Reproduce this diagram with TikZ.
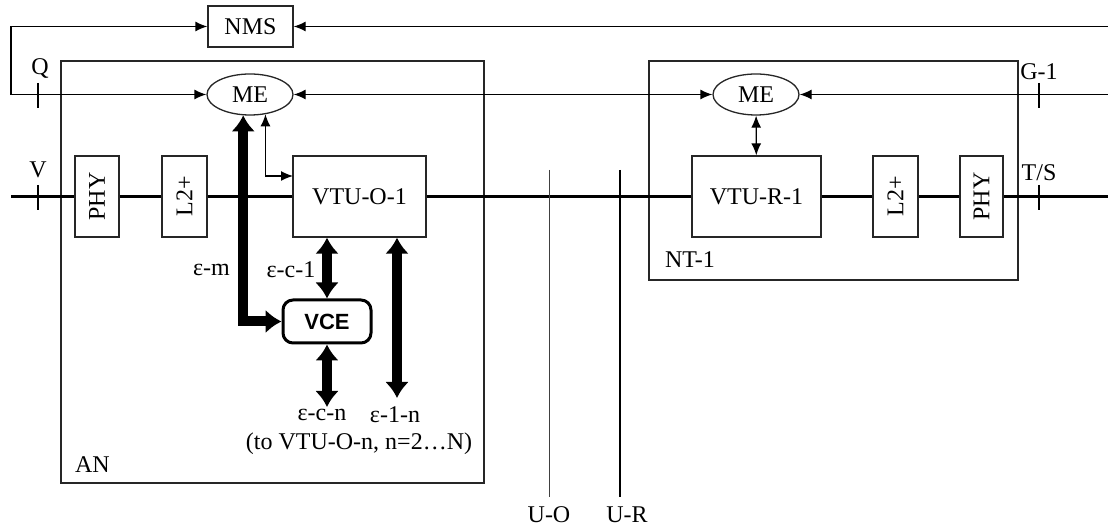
\documentclass[tikz,border=0pt]{standalone}
\usepackage{fontspec}
\setmainfont{Liberation Serif}
\newfontfamily\vcefont{Liberation Sans}
\usetikzlibrary{arrows.meta,shapes.geometric}

\tikzset{every picture/.style={line width=0.65pt}}
\tikzset{
  blk/.style={draw=black!85, fill=white, inner sep=0pt, font=\fontsize{12}{14}\selectfont},
  lbl/.style={inner sep=0.75pt, font=\fontsize{12}{14}\selectfont},
  sm/.style={-{Latex[length=6pt,width=5pt]}},
  smboth/.style={{Latex[length=6pt,width=5pt]}-{Latex[length=6pt,width=5pt]}},
  fatboth/.style={line width=5pt, {Latex[length=8pt,width=12pt]}-{Latex[length=8pt,width=12pt]}},
  bus/.style={line width=1.8pt},
}

\begin{document}
\begin{tikzpicture}[x=0.5pt,y=0.5pt,yscale=-1,xscale=1]
\useasboundingbox (0,0) rectangle (1108,528);

%Shape: Rectangle AN
\draw [black!85] (61,61) rectangle (484,483);
%Shape: Rectangle NT-1
\draw [black!85] (649,61) rectangle (1018,280);

%Boxes
\node [blk, minimum width=42.5pt, minimum height=20.5pt] (NMS) at (250.5,26.5) {NMS};
\node [blk, ellipse, minimum width=43pt, minimum height=20.5pt] (MEo) at (250,94.5) {ME};
\node [blk, ellipse, minimum width=43pt, minimum height=20.5pt] (MEr) at (756,94.5) {ME};
\node [blk, rotate=90, minimum width=40.5pt, minimum height=22pt] (PHYo) at (97,196.5) {PHY};
\node [blk, rotate=90, minimum width=40.5pt, minimum height=22.5pt] (L2o) at (184.5,196.5) {L2+};
\node [blk, minimum width=66.5pt, minimum height=40.5pt] (VTUO) at (359.5,196.5) {VTU-O-1};
\node [blk, minimum width=64.5pt, minimum height=40.5pt] (VTUR) at (756.5,196.5) {VTU-R-1};
\node [blk, rotate=90, minimum width=40.5pt, minimum height=22.5pt] (L2r) at (895.5,196.5) {L2+};
\node [blk, rotate=90, minimum width=40.5pt, minimum height=21.5pt] (PHYr) at (981.5,196.5) {PHY};
\node [draw, fill=white, line width=1.5pt, rounded corners=5pt, inner sep=0pt, minimum width=44pt, minimum height=21.5pt, font=\vcefont\bfseries\fontsize{11}{13}\selectfont] (VCE) at (327,321.5) {VCE};

%Free ends
\coordinate (busL) at (11,196.5);
\coordinate (busR) at (1108,196.5);
\coordinate (qtop) at (11,26.5);
\coordinate (qbot) at (11,94.5);
\coordinate (nmsR) at (1108,26.5);
\coordinate (meR) at (1108,94.5);
\coordinate (vtuoin) at (293,176);
\coordinate (ecn) at (327,407);
\coordinate (eln) at (397,398);
\coordinate (UOtop) at (549,170);
\coordinate (UObot) at (549,497);
\coordinate (URtop) at (620,170);
\coordinate (URbot) at (620,497);

%Bus line
\draw [bus] (busL) -- (PHYo) -- (L2o) -- (VTUO) -- (VTUR) -- (L2r) -- (PHYr) -- (busR);

%Management lines
\draw [smboth] (NMS) -- (qtop) -- (qbot) -- (MEo);
\draw [sm] (nmsR) -- (NMS);
\draw [smboth] (MEo) -- (MEr);
\draw [sm] (meR) -- (MEr);
\draw [smboth] (MEr) -- (VTUR);
\draw [smboth] (MEo.308) |- (vtuoin);

%Thick arrows
\draw [fatboth] (MEo.252) |- (VCE.west);
\draw [fatboth] (VTUO.south -| VCE) -- (VCE);
\draw [fatboth] (VCE) -- (ecn);
\draw [fatboth] (VTUO.south -| eln) -- (eln);

%Reference points U-O, U-R
\draw [black!75, line width=0.5pt] (UOtop) -- (UObot);
\draw [line width=0.8pt] (URtop) -- (URbot);

%Ticks
\draw (38,83) -- (38,108);
\draw (38,185) -- (38,210);
\draw (1039,83) -- (1039,108);
\draw (1039,185) -- (1039,210);

% Text Node
\draw (40,69) node [lbl] (labQ) {Q};
% Text Node
\draw (38,170) node [lbl] (labV) {V};
% Text Node
\draw (1039,72) node [lbl] (labG) {G-1};
% Text Node
\draw (1039,173) node [lbl] (labTS) {T/S};
% Text Node
\draw (663,260) node [lbl, anchor=west] (labNT) {NT-1};
% Text Node
\draw (73,465) node [lbl, anchor=west] (labAN) {AN};
% Text Node
\draw (232,270) node [lbl, anchor=east] (labem) {ε-m};
% Text Node
\draw (291,270) node [lbl] (labec) {ε-c-1};
% Text Node
\draw (322,415) node [lbl] (labecn) {ε-c-n};
% Text Node
\draw (395,415) node [lbl] (labeln) {ε-1-n};
% Text Node
\draw (359,444) node [lbl] (labto) {(to VTU-O-n, n=2…N)};
% Text Node
\draw (549,515) node [lbl] (labUO) {U-O};
% Text Node
\draw (627,515) node [lbl] (labUR) {U-R};

\end{tikzpicture}
\end{document}
